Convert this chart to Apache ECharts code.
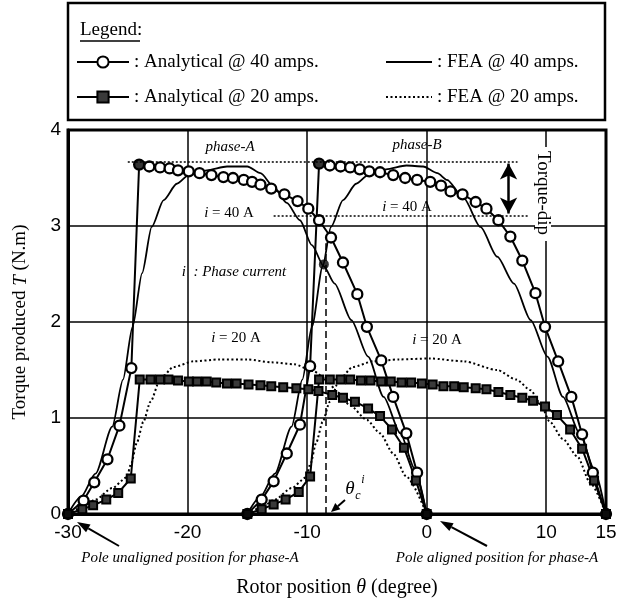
<!DOCTYPE html>
<html><head><meta charset="utf-8">
<script src="https://cdn.jsdelivr.net/npm/echarts@6/dist/echarts.min.js"></script>
<style>html,body{margin:0;padding:0;background:#fff}#c{width:631px;height:598px}</style>
</head><body><div id="c"></div>
<script>
// ---- data (rotor position in degrees, torque in N.m) ----
const analytical40_phaseA = [[-30,0],[-28.7,0.14],[-27.8,0.33],[-26.7,0.57],[-25.7,0.92],[-24.7,1.52],[-24.05,3.64],[-23.2,3.62],[-22.3,3.61],[-21.5,3.60],[-20.8,3.58],[-19.9,3.57],[-19.0,3.55],[-18.0,3.53],[-17.0,3.51],[-16.2,3.50],[-15.3,3.48],[-14.6,3.46],[-13.9,3.43],[-13.0,3.39],[-11.9,3.33],[-10.8,3.26],[-9.9,3.18],[-9.0,3.06],[-8.0,2.88],[-7.0,2.62],[-5.8,2.29],[-5.0,1.95],[-3.8,1.60],[-2.8,1.22],[-1.7,0.84],[-0.8,0.43],[0,0]];
const analytical40_phaseB = [[-15,0],[-13.8,0.15],[-12.8,0.34],[-11.7,0.63],[-10.6,0.93],[-9.75,1.54],[-9.0,3.65],[-8.1,3.63],[-7.2,3.62],[-6.4,3.61],[-5.6,3.59],[-4.8,3.57],[-3.9,3.56],[-2.8,3.53],[-1.8,3.50],[-0.8,3.48],[0.3,3.46],[1.2,3.42],[2.0,3.36],[3.0,3.33],[4.1,3.25],[5.0,3.18],[6.0,3.06],[7.0,2.89],[8.0,2.64],[9.1,2.30],[9.9,1.95],[11.0,1.59],[12.1,1.22],[13.0,0.83],[13.9,0.43],[15,0]];
const analytical20_phaseA = [[-30,0],[-28.8,0.05],[-27.9,0.09],[-26.8,0.15],[-25.8,0.22],[-24.75,0.37],[-24.0,1.40],[-23.1,1.40],[-22.3,1.40],[-21.6,1.40],[-20.8,1.39],[-19.9,1.38],[-19.2,1.38],[-18.4,1.38],[-17.6,1.37],[-16.7,1.36],[-15.9,1.36],[-14.9,1.35],[-13.9,1.34],[-13.0,1.33],[-12.0,1.32],[-10.9,1.31],[-9.9,1.30],[-9.05,1.28],[-7.9,1.24],[-7.0,1.21],[-6.0,1.17],[-4.9,1.10],[-3.9,1.02],[-2.9,0.88],[-1.9,0.69],[-0.9,0.35],[0,0]];
const analytical20_phaseB = [[-15,0],[-13.8,0.05],[-12.8,0.10],[-11.8,0.15],[-10.7,0.23],[-9.75,0.39],[-9.0,1.40],[-8.1,1.40],[-7.2,1.40],[-6.4,1.40],[-5.5,1.39],[-4.7,1.39],[-3.8,1.38],[-3.0,1.38],[-2.1,1.37],[-1.3,1.37],[-0.4,1.36],[0.5,1.35],[1.4,1.33],[2.3,1.33],[3.1,1.32],[4.1,1.31],[5.0,1.30],[6.0,1.27],[7.0,1.24],[8.0,1.21],[8.9,1.18],[9.9,1.12],[10.9,1.03],[12.0,0.88],[13.0,0.68],[14.0,0.35],[15,0]];
const fea40_phaseA = [[-30,0],[-28.9,0.18],[-27.7,0.42],[-26.3,0.91],[-25.4,1.40],[-24.6,1.95],[-23.8,2.51],[-23.0,2.99],[-22.0,3.27],[-20.9,3.44],[-19.9,3.53],[-18.4,3.58],[-16.7,3.62],[-15.0,3.62],[-13.9,3.55],[-12.8,3.41],[-11.7,3.24],[-10.6,3.06],[-9.6,2.80],[-8.6,2.58],[-7.7,2.40],[-6.3,2.02],[-4.9,1.64],[-3.6,1.22],[-2.2,0.84],[-1.0,0.47],[0,0]];
const fea40_phaseB = [[-15,0],[-13.9,0.18],[-12.7,0.42],[-11.3,0.91],[-10.4,1.40],[-9.6,1.95],[-8.7,2.58],[-8.0,2.99],[-7.0,3.27],[-5.9,3.44],[-4.9,3.53],[-3.4,3.59],[-1.7,3.63],[-0.3,3.62],[0.9,3.55],[1.7,3.48],[3.1,3.29],[4.5,2.99],[5.9,2.68],[7.3,2.40],[8.7,2.02],[10.1,1.64],[11.4,1.22],[12.8,0.84],[14.0,0.47],[15,0]];
const fea20_phaseA = [[-30,0],[-28.8,0.07],[-27.7,0.15],[-26.3,0.27],[-25.1,0.38],[-24.7,0.53],[-24.25,0.74],[-23.7,0.96],[-23.1,1.17],[-22.3,1.40],[-21.2,1.53],[-19.5,1.59],[-17.3,1.61],[-15.0,1.61],[-13.0,1.58],[-11.1,1.56],[-9.5,1.49],[-8.35,1.40],[-7.5,1.27],[-6.4,1.13],[-5.0,0.98],[-3.9,0.84],[-2.8,0.63],[-1.7,0.39],[0,0]];
const fea20_phaseB = [[-15,0],[-13.8,0.07],[-12.7,0.15],[-11.3,0.27],[-10.1,0.38],[-9.7,0.53],[-9.25,0.74],[-8.7,0.96],[-8.1,1.17],[-7.3,1.40],[-6.2,1.53],[-4.5,1.59],[-2.3,1.61],[0.3,1.62],[3.1,1.59],[5.9,1.50],[7.5,1.40],[8.7,1.29],[9.5,1.15],[10.3,0.96],[11.4,0.78],[12.6,0.60],[13.7,0.32],[15,0]];
const filledDots = [[-30,0],[-15,0],[0,0],[15,0],[-8.6,2.6],[-24.05,3.64],[-9.0,3.65]];
const xTicks = [-30,-20,-10,0,10,15];
const yTicks = [0,1,2,3,4];
const seriesNames = ['Analytical @ 40 amps.','Analytical @ 20 amps.','FEA @ 40 amps.','FEA @ 20 amps.'];
const torqueLevels = {peak: 3.67, dip: 3.11};
const thetaC = -8.45;

const serif = '"Liberation Serif","Times New Roman",serif';
const sans = '"Liberation Sans",Arial,sans-serif';

function anaSeries(name, data, sym) {
  const circle = sym === 'circle';
  return {
    name, type:'line', data, clip:false, z:4,
    symbol: circle ? 'circle' : 'rect',
    symbolSize: circle ? 10 : 8,
    showAllSymbol: true,
    lineStyle:{color:'#000', width:2},
    itemStyle:{color: circle ? '#fff' : '#3a3a3a', borderColor:'#000', borderWidth: circle ? 2.3 : 2}
  };
}
function feaSeries(name, data, dotted) {
  return {
    name, type:'line', data, clip:false, z:3,
    symbol:'none', smooth:0.25, smoothMonotone:'x',
    lineStyle:{color:'#000', width: dotted ? 2 : 1.8, type: dotted ? [2,2.5] : 'solid'},
    itemStyle:{color:'#000'}
  };
}

const mlStyle = (type, w) => ({color:'#000', width:w, type});
const legendText = {fontFamily:serif, fontSize:19, color:'#000', lineHeight:20};
const option = {
  animation:false,
  backgroundColor:'#fff',
  grid:{left:68, right:25, top:130, bottom:84, show:true, borderColor:'#000', borderWidth:3, containLabel:false, outerBoundsMode:'none'},
  xAxis:{
    type:'value', min:xTicks[0], max:xTicks[xTicks.length-1], interval:10,
    axisLine:{show:true, onZero:false, lineStyle:{color:'#000', width:3}},
    axisTick:{show:false},
    splitLine:{show:true, lineStyle:{color:'#000', width:1.5}},
    axisLabel:{color:'#000', fontFamily:sans, fontSize:19, margin:9},
    name:'{n|Rotor position }{i|θ}{n| (degree)}',
    nameLocation:'middle', nameGap:64,
    nameTextStyle:{rich:{n:{fontFamily:serif, fontSize:20, color:'#000'}, i:{fontFamily:serif, fontSize:20, fontStyle:'italic', color:'#000'}}}
  },
  yAxis:{
    type:'value', min:yTicks[0], max:yTicks[yTicks.length-1], interval:1,
    axisLine:{show:true, onZero:false, lineStyle:{color:'#000', width:3}},
    axisTick:{show:false},
    splitLine:{show:true, lineStyle:{color:'#000', width:1.5}},
    axisLabel:{color:'#000', fontFamily:sans, fontSize:19, margin:7},
    name:'{n|Torque produced }{i|T}{n| (N.m)}',
    nameLocation:'middle', nameGap:38, nameRotate:90,
    nameTextStyle:{rich:{n:{fontFamily:serif, fontSize:19, color:'#000'}, i:{fontFamily:serif, fontSize:19, fontStyle:'italic', color:'#000'}}}
  },
  legend:[
    {data:[seriesNames[0], seriesNames[1]], orient:'vertical', left:71, top:47, itemWidth:52, itemHeight:14, itemGap:15,
     selectedMode:false, formatter:': {name}', textStyle:legendText},
    {data:[{name:seriesNames[2], itemStyle:{opacity:0}}, {name:seriesNames[3], itemStyle:{opacity:0}}], orient:'vertical', left:380, top:47, itemWidth:46, itemHeight:14, itemGap:15,
     selectedMode:false, formatter:': {name}', textStyle:legendText}
  ],
  series:[
    Object.assign(anaSeries(seriesNames[0], analytical40_phaseA, 'circle'), {
      markLine:{silent:true, symbol:'none', label:{show:false}, data:[
        [{coord:[-25, torqueLevels.peak], lineStyle:mlStyle([2,2],1.5)},{coord:[7.6, torqueLevels.peak]}],
        [{coord:[-12.8, torqueLevels.dip], lineStyle:mlStyle([2,2],1.5)},{coord:[8.6, torqueLevels.dip]}],
        [{coord:[thetaC, 0], lineStyle:mlStyle([7,4],1.5)},{coord:[thetaC, 2.82]}]
      ]}
    }),
    Object.assign(anaSeries(seriesNames[0], analytical40_phaseB, 'circle'), {
      markLine:{silent:true, symbol:['arrow','arrow'], symbolSize:[13,16], label:{show:false}, data:[
        [{coord:[6.85, torqueLevels.peak-0.02], lineStyle:mlStyle('solid',2.5)},{coord:[6.85, torqueLevels.dip+0.02]}]
      ]}
    }),
    anaSeries(seriesNames[1], analytical20_phaseA, 'rect'),
    anaSeries(seriesNames[1], analytical20_phaseB, 'rect'),
    feaSeries(seriesNames[2], fea40_phaseA, false),
    feaSeries(seriesNames[2], fea40_phaseB, false),
    feaSeries(seriesNames[3], fea20_phaseA, true),
    feaSeries(seriesNames[3], fea20_phaseB, true),
    {name:'dots', type:'scatter', data:filledDots, symbolSize:10, itemStyle:{color:'#000'}, clip:false, z:6, silent:true}
  ]
};

function T(x, y, text, o) {
  o = o || {};
  return {type:'text', x, y, rotation:o.rot||0, z:20, style:{
    text, fill:'#000', align:o.align||'center', verticalAlign:'middle',
    fontFamily:serif, fontSize:o.size||15, fontStyle:o.italic?'italic':'normal', rich:o.rich
  }};
}
function arrow(x1,y1,x2,y2,len,wid) {
  const dx=x2-x1, dy=y2-y1, d=Math.hypot(dx,dy), ux=dx/d, uy=dy/d;
  const bx=x2-ux*len, by=y2-uy*len;
  return [
    {type:'line', z:20, shape:{x1,y1,x2:bx,y2:by}, style:{stroke:'#000', lineWidth:2}},
    {type:'polygon', z:20, shape:{points:[[x2,y2],[bx-uy*wid/2,by+ux*wid/2],[bx+uy*wid/2,by-ux*wid/2]]}, style:{fill:'#000'}}
  ];
}
const richI = {i:{fontFamily:serif, fontSize:15, fontStyle:'italic'}, n:{fontFamily:serif, fontSize:15}};
option.graphic = [
  {type:'rect', z:-1, shape:{x:68, y:3, width:537, height:117}, style:{fill:'none', stroke:'#000', lineWidth:2.5}},
  T(80, 30, 'Legend:', {align:'left', size:19}),
  {type:'line', z:20, shape:{x1:80, y1:41, x2:140, y2:41}, style:{stroke:'#000', lineWidth:1.3}},
  T(230, 147, 'phase-A', {italic:true}),
  T(417, 145, 'phase-B', {italic:true}),
  T(229, 213, '{i|i} {n|= 40 A}', {rich:richI}),
  T(407, 207, '{i|i} {n|= 40 A}', {rich:richI}),
  T(234, 272, '{i|i  : Phase current}', {rich:richI}),
  T(236, 338, '{i|i} {n|= 20 A}', {rich:richI}),
  T(437, 340, '{i|i} {n|= 20 A}', {rich:richI}),
  {type:'rect', z:19, shape:{x:535, y:147, width:16, height:94}, style:{fill:'#fff'}},
  T(543, 193, 'Torque-dip', {size:19, rot:-Math.PI/2}),
  T(350, 489, 'θ', {italic:true, size:19}),
  T(358, 496, 'c', {italic:true, size:12}),
  T(363, 480, 'i', {italic:true, size:12}),
  ...arrow(345, 500, 331, 512, 9, 8),
  T(190, 558, 'Pole unaligned position for phase-A', {italic:true, size:15}),
  T(497, 558, 'Pole aligned position for phase-A', {italic:true, size:15}),
  ...arrow(119, 546, 77, 522, 13, 9),
  ...arrow(487, 546, 440, 521, 13, 9)
];

const chart = echarts.init(document.getElementById('c'));
chart.setOption(option);
</script></body></html>
